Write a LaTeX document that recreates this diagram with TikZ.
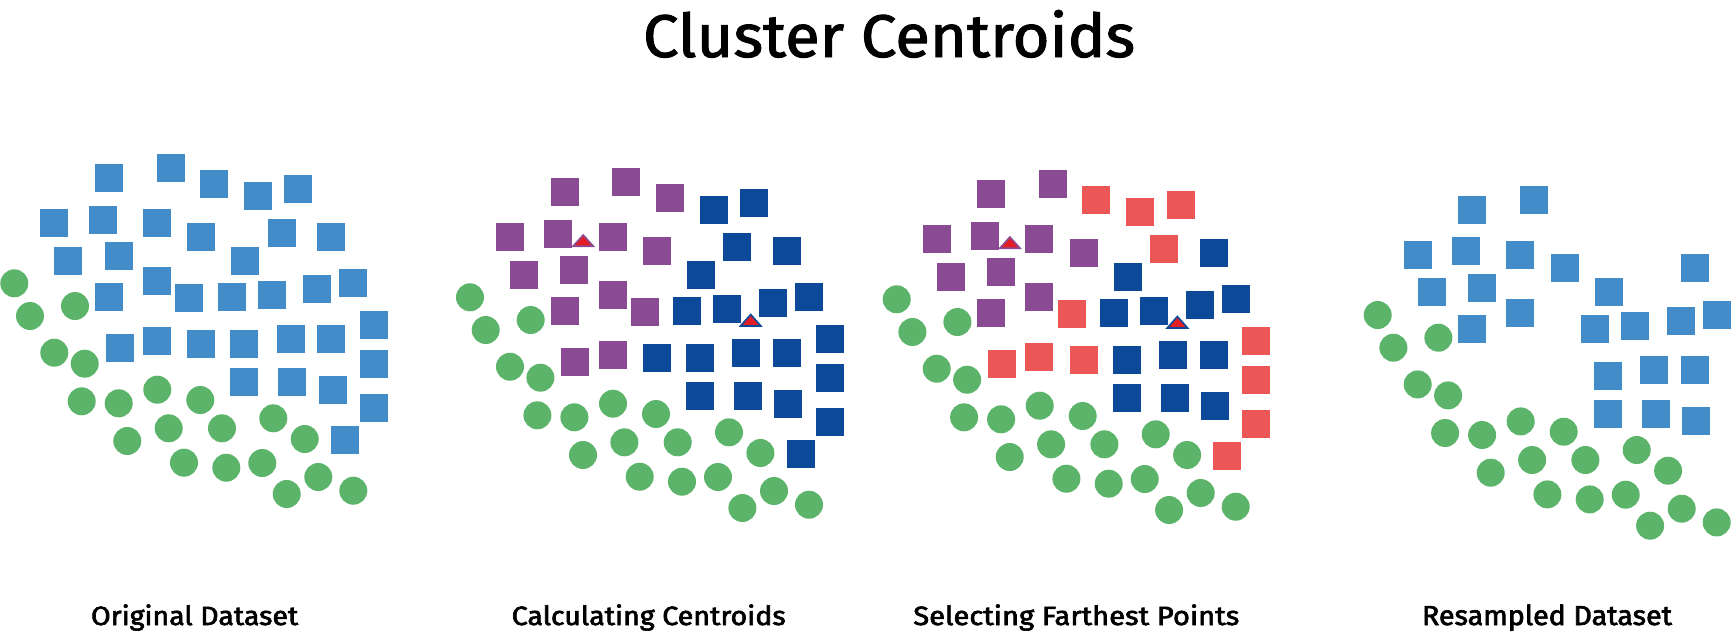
\documentclass[tikz,border=0pt]{standalone}
\usepackage{fontspec}
\setmainfont{Fira Sans}
\newfontfamily\labfont[FakeBold=2.4]{Fira Sans}
\newfontfamily\titfont[FakeBold=1.6]{Fira Sans}
\usepackage{graphicx}
\definecolor{cB}{RGB}{66,140,202}
\definecolor{cG}{RGB}{92,180,106}
\definecolor{cP}{RGB}{138,74,148}
\definecolor{cD}{RGB}{12,73,153}
\definecolor{cR}{RGB}{235,87,87}
\definecolor{tred}{RGB}{227,30,36}
\newcommand\drawpanel[3]{%
\begin{scope}[shift={#2}]
\foreach \i/\x/\y/\ca/\cb/\cc/\cd in {
1/109/178.3/B/P/P/B, 2/170.7/168.3/B/P/P/B, 3/214/184.3/B/P/R/N, 4/258/195.7/B/D/R/N,
5/298.3/189.3/B/D/R/N, 6/54.3/223.3/B/P/P/B, 7/102.7/219.7/B/P/P/B, 8/157/223.3/B/P/P/B,
9/201.3/236.7/B/P/P/B, 10/281.7/233.3/B/D/R/N, 11/331.3/236.7/B/D/D/B, 12/68.3/260.7/B/P/P/B,
13/118.7/256/B/P/P/B, 14/245.3/260.7/B/D/D/B, 15/157/281/B/P/P/B, 16/109/297.3/B/P/P/B,
17/189.3/298/B/P/R/N, 18/231.7/297.3/B/D/D/B, 19/271.7/294.7/B/D/D/B, 20/317.3/289/B/D/D/B,
21/353.3/283.3/B/D/D/B, 22/374/325/B/D/R/N, 23/119.7/347.7/B/P/R/N, 24/157/341/B/P/R/N,
25/201.3/344/B/D/R/N, 26/244.3/344/B/D/D/B, 27/290.7/338.7/B/D/D/B, 28/331.3/338.7/B/D/D/B,
29/374/364/B/D/R/N, 30/244.3/382.3/B/D/D/B, 31/292.3/382.3/B/D/D/B, 32/332.7/389.7/B/D/D/B,
33/374/407.7/B/D/R/N, 34/345/440/B/D/R/N}{%
  \ifcase#3\or\let\c\ca\or\let\c\cb\or\let\c\cc\or\let\c\cd\fi
  \if\c N\else\node[sq,fill=c\c] (s#1-\i) at (\x,\y) {};\fi}
\foreach \i/\x/\y in {1/14.3/283.3, 2/30/316, 3/75/306, 4/54.3/352.7, 5/84.7/363.7,
6/81.7/401.3, 7/118.7/403.3, 8/157.3/389.7, 9/200.3/400, 10/273.3/418.3,
11/127.3/441, 12/168.7/428.3, 13/222/428.3, 14/304.7/439, 15/184/462.7,
16/226.3/467.7, 17/262.3/463, 18/318.3/477, 19/286.7/494, 20/353.3/490.7}{%
  \node[dot] (d#1-\i) at (\x,\y) {};}
\end{scope}}
\newcommand\centroids[1]{%
\begin{scope}[shift={#1}]
\filldraw[fill=tred,draw=cP,line width=0.8pt,line join=miter] (127.5,221) -- (137.6,232.2) -- (117.4,232.2) -- cycle;
\filldraw[fill=tred,draw=cD,line width=0.8pt,line join=miter] (295,300.5) -- (305.2,312) -- (284.8,312) -- cycle;
\end{scope}}
\begin{document}
\begin{tikzpicture}[x=0.5pt,y=-0.5pt,
  sq/.style={rectangle,inner sep=0pt,minimum size=14pt,draw=none},
  dot/.style={circle,inner sep=0pt,minimum size=14pt,fill=cG,draw=none},
  lbl/.style={anchor=base west,inner sep=0pt,outer sep=0pt}]
\useasboundingbox (0,0) rectangle (1731,634);
\fill[white] (0,0) rectangle (1731,634);
\drawpanel{1}{(0,0)}{1}
\drawpanel{2}{(455.7,14)}{2}
\drawpanel{3}{(882.4,16)}{3}
\drawpanel{4}{(1363.4,31.7)}{4}
\centroids{(455.7,14)}
\centroids{(882.4,16)}
\node[lbl] (title) at (643,57) {\resizebox{246pt}{23.5pt}{\titfont Cluster Centroids}};
\node[lbl] (l1) at (91,625) {\resizebox{103.6pt}{10.3pt}{\labfont Original Dataset}};
\node[lbl] (l2) at (511.7,625) {\resizebox{137pt}{10.3pt}{\labfont Calculating Centroids}};
\node[lbl] (l3) at (913.3,625) {\resizebox{163pt}{10.3pt}{\labfont Selecting Farthest Points}};
\node[lbl] (l4) at (1422,625) {\resizebox{125pt}{10.3pt}{\labfont Resampled Dataset}};
\end{tikzpicture}
\end{document}
